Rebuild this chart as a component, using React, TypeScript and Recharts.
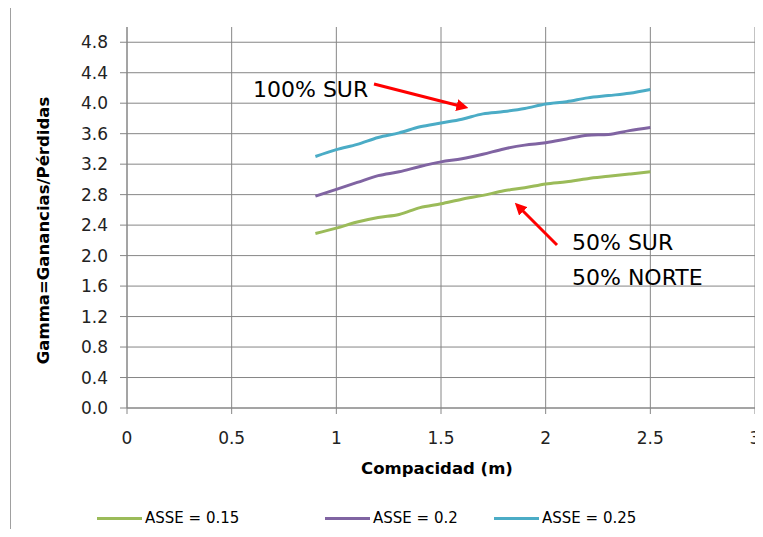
import { LineChart, Line, XAxis, YAxis, CartesianGrid, Legend, Label, ReferenceLine } from "recharts"

const compacidad = [0.9, 1.0, 1.1, 1.2, 1.3, 1.4, 1.5, 1.6, 1.7, 1.8, 1.9, 2.0, 2.1, 2.2, 2.3, 2.4, 2.5]
const asse015 = [2.29, 2.36, 2.44, 2.5, 2.54, 2.63, 2.68, 2.74, 2.79, 2.85, 2.89, 2.94, 2.97, 3.01, 3.04, 3.07, 3.1]
const asse02 = [2.78, 2.87, 2.96, 3.05, 3.1, 3.17, 3.23, 3.27, 3.33, 3.4, 3.45, 3.48, 3.53, 3.58, 3.59, 3.64, 3.68]
const asse025 = [3.3, 3.39, 3.46, 3.55, 3.61, 3.69, 3.74, 3.79, 3.86, 3.89, 3.93, 3.99, 4.02, 4.07, 4.1, 4.13, 4.18]

const xTicks = [0, 0.5, 1, 1.5, 2, 2.5, 3]
const yTicks = [0, 0.4, 0.8, 1.2, 1.6, 2.0, 2.4, 2.8, 3.2, 3.6, 4.0, 4.4, 4.8]

const seriesNames = ["ASSE = 0.15", "ASSE = 0.2", "ASSE = 0.25"]
const COLORS = ["#9bbb59", "#8064a2", "#4bacc6"]

const data = compacidad.map((x, i) => ({
  x,
  a: asse015[i],
  b: asse02[i],
  c: asse025[i],
}))

const FONT = '"DejaVu Sans", sans-serif'
const GRID = "#868686"
const LEGEND_WIDTHS = [228, 169, 160]

function YTitle(props: any) {
  const { viewBox } = props
  const cx = viewBox.x + 43
  const cy = viewBox.y + viewBox.height / 2 + 13
  return (
    <text
      x={cx}
      y={cy}
      transform={`rotate(-90 ${cx} ${cy})`}
      textAnchor="middle"
      dominantBaseline="central"
      fontFamily={FONT}
      fontWeight="bold"
      fontSize={16.5}
      fill="#000"
    >
      Gamma=Ganancias/Pérdidas
    </text>
  )
}

function LegendBox() {
  return (
    <div style={{ display: "flex", height: 20, alignItems: "center", paddingLeft: 97, fontFamily: FONT, fontSize: 15 }}>
      {seriesNames.map((name, i) => (
        <div key={name} style={{ width: LEGEND_WIDTHS[i], display: "flex", alignItems: "center" }}>
          <span style={{ display: "inline-block", width: 45, height: 3, background: COLORS[i], marginRight: 3 }} />
          <span style={{ color: "#000" }}>{name}</span>
        </div>
      ))}
    </div>
  )
}

export default function App() {
  return (
    <div style={{ position: "relative", width: 763, height: 537, margin: "-8px 0 -8px -8px", overflow: "hidden", background: "#fff" }}>
      <div style={{ position: "absolute", left: 10, top: 5, width: 780, height: 560, border: "1px solid #a0a0a0" }} />
      <LineChart width={763} height={537} data={data} margin={{ top: 27, right: 8, left: 0, bottom: 38 }} style={{ overflow: "visible" }}>
        <CartesianGrid stroke={GRID} strokeWidth={1} horizontal={false} />
        {yTicks.map((t) => (
          <ReferenceLine key={t} y={t} stroke={GRID} strokeWidth={1} />
        ))}
        <XAxis
          dataKey="x"
          type="number"
          domain={[0, 3]}
          ticks={xTicks}
          interval={0}
          height={71}
          stroke={GRID}
          tickSize={6}
          tick={{ fill: "#222", fontSize: 17, fontFamily: FONT }}
          tickMargin={18}
        >
          <Label
            value="Compacidad (m)"
            position="insideBottom"
            offset={5}
            dx={-4}
            style={{ fontFamily: FONT, fontWeight: "bold", fontSize: 16.5, fill: "#000" }}
          />
        </XAxis>
        <YAxis
          type="number"
          domain={[0, 5]}
          ticks={yTicks}
          width={127}
          stroke={GRID}
          tickSize={7}
          tickMargin={12}
          tickFormatter={(v: number) => v.toFixed(1)}
          tick={{ fill: "#222", fontSize: 17, fontFamily: FONT }}
          label={{ content: YTitle }}
        />
        <Legend
          content={() => <LegendBox />}
          wrapperStyle={{ top: 508, left: 0, bottom: "auto" }}
          verticalAlign="bottom"
          height={20}
        />
        <Line type="monotone" dataKey="a" name={seriesNames[0]} stroke={COLORS[0]} strokeWidth={3} dot={false} isAnimationActive={false} />
        <Line type="monotone" dataKey="b" name={seriesNames[1]} stroke={COLORS[1]} strokeWidth={3} dot={false} isAnimationActive={false} />
        <Line type="monotone" dataKey="c" name={seriesNames[2]} stroke={COLORS[2]} strokeWidth={3} dot={false} isAnimationActive={false} />
      </LineChart>
      <svg width={763} height={537} style={{ position: "absolute", left: 0, top: 0, pointerEvents: "none" }}>
        <defs>
          <marker id="arrowRed" markerWidth="4" markerHeight="4" refX="2.5" refY="2" orient="auto">
            <path d="M0,0 L4,2 L0,4 Z" fill="#ff0000" />
          </marker>
        </defs>
        <line x1={374} y1={84} x2={464} y2={107} stroke="#ff0000" strokeWidth={3} markerEnd="url(#arrowRed)" />
        <line x1={557} y1={245} x2={518} y2={206} stroke="#ff0000" strokeWidth={3} markerEnd="url(#arrowRed)" />
        <g fontFamily={FONT} fontSize={22} fill="#000">
          <text x={253} y={97}>100% SUR</text>
          <text x={572} y={250}>50% SUR</text>
          <text x={572} y={285}>50% NORTE</text>
        </g>
      </svg>
    </div>
  )
}
